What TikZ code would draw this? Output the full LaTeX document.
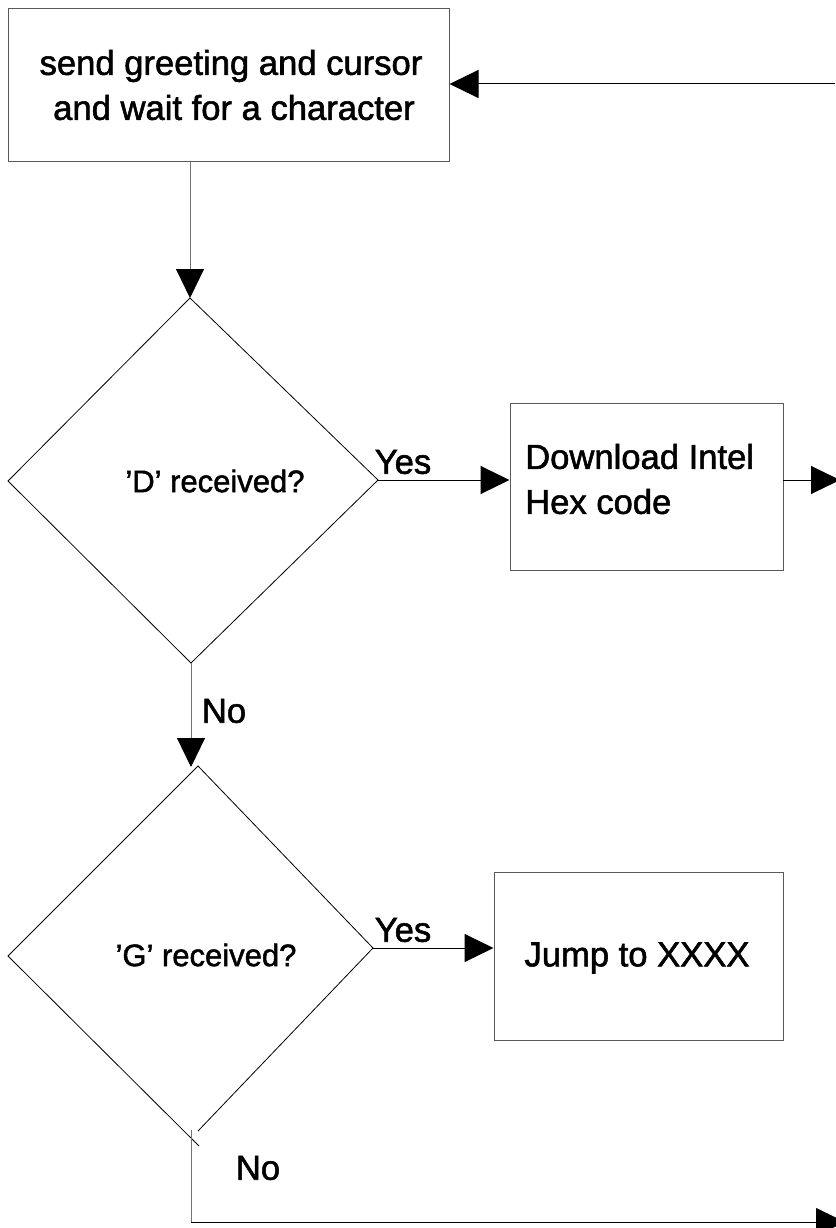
\documentclass[tikz,border=0pt]{standalone}
\usepackage{fontspec}
\setmainfont{Liberation Sans}
\newfontfamily\heavyfont[FakeBold=1.6,Ligatures=TeX]{Liberation Sans}
\usetikzlibrary{arrows.meta}
\begin{document}
\begin{tikzpicture}[x=1pt,y=-1pt,
  boxstyle/.style={draw=black!65,line width=1pt,inner sep=0pt},
  bigtext/.style={font=\heavyfont\fontsize{34.6pt}{45pt}\selectfont,inner sep=0pt},
  dtext/.style={font=\heavyfont\fontsize{31pt}{38pt}\selectfont,inner sep=0pt},
  hconn/.style={draw=black,line width=1pt,-{Triangle[length=29pt,width=28pt,color=black]}},
  vconn/.style={draw=black!55,line width=1pt,-{Triangle[length=29pt,width=28pt,color=black]}},
  vline/.style={draw=black!55,line width=1pt},
  hline/.style={draw=black,line width=1pt},
  dline/.style={draw=black,line width=0.8pt}]
\useasboundingbox (0,0) rectangle (835,1228);
% boxes
\node[boxstyle,minimum width=441pt,minimum height=152pt] (b1) at (228.5,85) {};
\node[bigtext,align=center] (t1) at (231,85) {send greeting and cursor\\ \hspace{6pt}and wait for a character};
\node[boxstyle,minimum width=273pt,minimum height=167pt] (b2) at (646.5,486.5) {};
\node[bigtext,align=left,anchor=west] (t2) at (525,479) {Download Intel\\Hex code};
\node[boxstyle,minimum width=289pt,minimum height=168pt] (b3) at (638.5,956) {};
\node[bigtext] (t3) at (637,958) {Jump to XXXX};
% diamond 1
\coordinate (d1t) at (190,298);
\coordinate (d1r) at (378,480);
\coordinate (d1b) at (191,663);
\coordinate (d1l) at (8,481);
\draw[dline] (d1t) -- (d1r) -- (d1b) -- (d1l) -- cycle;
\node[dtext] (d1) at (215,481) {’D’ received?};
% diamond 2
\coordinate (d2t) at (198,766);
\coordinate (d2r) at (373,948);
\coordinate (d2br) at (198,1131);
\coordinate (d2bl) at (199,1146);
\coordinate (d2l) at (8,956);
\draw[dline] (d2bl) -- (d2l) -- (d2t) -- (d2r) -- (d2br);
\node[dtext] (d2) at (206,955) {’G’ received?};
% connectors
\coordinate (topin) at (835,84);
\draw[hconn] (topin) -- (b1.east |- topin);
\coordinate (b1bot) at (190,161);
\coordinate (d1tip) at (190,298);
\draw[vconn] (b1bot) -- (d1tip);
\draw[hconn] (d1r) -- (b2.west |- d1r);
\node[bigtext] (yes1) at (403,462) {Yes};
\coordinate (b2out) at (783,480);
\coordinate (b2end) at (840,480);
\draw[hconn] (b2out) -- (b2end);
\coordinate (n1s) at (191,663);
\coordinate (n1e) at (191,767);
\draw[vconn] (n1s) -- (n1e);
\node[bigtext] (no1) at (224,711) {No};
\draw[hconn] (d2r) -- (b3.west |- d2r);
\node[bigtext] (yes2) at (403,930) {Yes};
\coordinate (n2s) at (191,1130);
\coordinate (n2c) at (191,1222);
\coordinate (n2e) at (845,1222);
\draw[vline] (n2s) -- (n2c);
\draw[hconn] (n2c) -- (n2e);
\node[bigtext] (no2) at (258,1168) {No};
\end{tikzpicture}
\end{document}
